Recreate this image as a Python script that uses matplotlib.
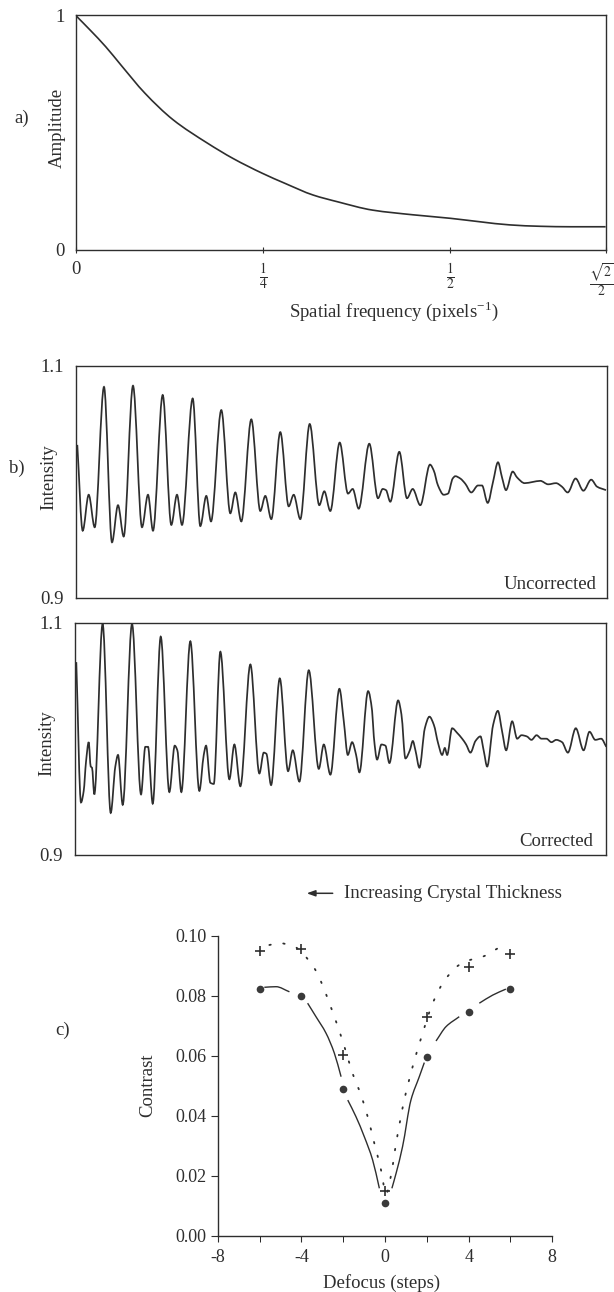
import matplotlib.pyplot as plt
import numpy as np
from matplotlib.path import Path
from matplotlib.patches import PathPatch
from matplotlib.transforms import ScaledTranslation

# a) amplitude fall-off with spatial frequency
freq = [0, 0.02, 0.0402, 0.06, 0.0925, 0.13, 0.176, 0.21, 0.249, 0.28, 0.317,
        0.35, 0.396, 0.45, 0.5, 0.54, 0.579, 0.62, 0.66, 0.707]
amp = [1.0, 0.935, 0.866, 0.79, 0.668, 0.555, 0.455, 0.39, 0.327, 0.283, 0.234,
       0.205, 0.170, 0.150, 0.135, 0.120, 0.107, 0.101, 0.099, 0.099]
freq_ticks = [0, 0.25, 0.5, np.sqrt(2) / 2]
freq_labels = ['0', r'$\frac{1}{4}$', r'$\frac{1}{2}$', r'$\frac{\sqrt{2}}{2}$']

# b) intensity profiles (position along the line, intensity)
unc = [(1.3, 1.032), (6.7, 0.958), (12.7, 0.989), (18.7, 0.961), (28, 1.082),
       (36, 0.948), (42, 0.980), (47.7, 0.953), (57, 1.083), (66, 0.961),
       (72, 0.989), (77, 0.958), (86.7, 1.075), (95.3, 0.963), (101, 0.989),
       (106, 0.963), (116.7, 1.072), (124.3, 0.962), (130.3, 0.988), (135, 0.966),
       (145.3, 1.062), (154.3, 0.973), (159.3, 0.991), (165.3, 0.966), (175.3, 1.054),
       (184.3, 0.975), (189.3, 0.988), (195.3, 0.968), (204.3, 1.043), (212.7, 0.979),
       (217.7, 0.989), (224.3, 0.968), (233.7, 1.050), (243.3, 0.980), (248.3, 0.992),
       (254.3, 0.975), (263.7, 1.034), (272, 0.990), (276.7, 0.994), (282.7, 0.977),
       (293.3, 1.033), (302, 0.986), (306.7, 0.994), (310, 0.993), (314.3, 0.983),
       (323.3, 1.026), (331, 0.986), (336.7, 0.994), (344.3, 0.980), (354, 1.015),
       (357.7, 1.010), (362, 0.997), (367.7, 0.989), (372, 0.990), (376.7, 1.003),
       (379.3, 1.005), (384.3, 1.003), (389.3, 0.9985), (395.3, 0.991), (402, 0.997),
       (406, 0.997), (411.7, 0.982), (417, 1.000), (422, 1.017), (426, 1.004),
       (430, 0.993), (436.7, 1.009), (441, 1.004), (448.7, 0.999), (456.5, 1.000),
       (464.3, 1.001), (472.2, 0.998), (480, 0.999), (485.9, 0.996), (491.7, 0.991),
       (499.6, 1.003), (507.4, 0.9925), (515.2, 1.002), (521, 0.996), (530, 0.993)]

cor = [(1, 1.066), (5.7, 0.945), (8.4, 0.955), (10.7, 0.980), (13.4, 0.997),
       (15.4, 0.976), (16.7, 0.975), (19, 0.952), (27.3, 1.099), (35.4, 0.936),
       (40, 0.976), (42.7, 0.986), (47.4, 0.943), (56.7, 1.099), (65.7, 0.952),
       (70, 0.993), (72.7, 0.993), (77.4, 0.944), (85.4, 1.088), (94, 0.954),
       (99.4, 0.994), (102, 0.990), (106, 0.954), (115, 1.084), (124, 0.955),
       (128.4, 0.986), (130.7, 0.994), (135, 0.962), (138.4, 0.961), (145, 1.075),
       (154, 0.965), (159, 0.995), (165, 0.959), (175, 1.064), (184, 0.970),
       (188.4, 0.988), (191, 0.987), (195.7, 0.960), (204.4, 1.052), (212.7, 0.972),
       (217.4, 0.990), (224, 0.963), (233.4, 1.059), (243.4, 0.974), (248.4, 0.995),
       (255, 0.969), (264, 1.043), (268.4, 1.015), (272.4, 0.986), (276.7, 0.997),
       (280.7, 0.986), (284, 0.971), (292.7, 1.041), (296.7, 1.024), (298.4, 1.002),
       (301.7, 0.982), (306, 0.995), (310, 0.994), (314, 0.979), (322.7, 1.033),
       (326, 1.021), (330, 0.983), (334.4, 0.990), (337.4, 0.998), (340, 0.990),
       (344, 0.975), (349.4, 1.009), (354, 1.019), (358.4, 1.012), (362.7, 0.996),
       (366.7, 0.986), (369.4, 0.992), (371.7, 0.986), (376.7, 1.009), (381.7, 1.005),
       (386.7, 1.000), (390.7, 0.995), (395, 0.988), (400, 0.998), (405, 1.002),
       (408.4, 0.989), (411.7, 0.976), (417.7, 1.012), (422.4, 1.024), (426.7, 1.006),
       (430.7, 0.990), (436.7, 1.015), (441.7, 1.000), (446, 1.003), (451.3, 1.002),
       (456, 0.999), (461.1, 1.003), (466, 1.000), (470.9, 1.000), (476, 0.997),
       (480.7, 0.999), (486.6, 0.997), (492.4, 0.988), (500.3, 1.009), (508.1, 0.990),
       (514, 1.006), (519.8, 0.999), (525.7, 1.000), (530.8, 0.993)]

# c) contrast against defocus
defocus = [-6, -4, -2, 0, 2, 4, 6]
contrast_plus = [0.0951, 0.0956, 0.0602, 0.0150, 0.0731, 0.0898, 0.0941]
contrast_dot = [0.0823, 0.0801, 0.0491, 0.0109, 0.0598, 0.0748, 0.0823]
fit_plus_x = [-5.53, -5.05, -4.41, -3.43, -3.06, -2.66, -2.42, -1.94, -1.55, -1.15,
              -0.83, -0.51, -0.19, 0.05, 0.29, 0.53, 0.92, 1.32, 1.80, 2.28, 2.92,
              3.79, 4.67, 5.47, 5.86]
fit_plus_y = [0.0970, 0.0976, 0.0967, 0.0898, 0.0848, 0.0776, 0.0731, 0.0631, 0.0542,
              0.0470, 0.0398, 0.0309, 0.0220, 0.0140, 0.0203, 0.0309, 0.0453, 0.0564,
              0.0676, 0.0776, 0.0859, 0.0914, 0.0931, 0.0962, 0.0976]
fit_dot_x = [-5.77, -5.21, -4.57, np.nan, -3.70, -3.30, -2.82, -2.42, -2.10, np.nan,
             -1.78, -1.39, -0.99, -0.59, -0.27, np.nan, 0.33, 0.53, 0.84, 1.24, 1.64,
             1.88, np.nan, 2.44, 2.92, 3.55, np.nan, 4.51, 5.15, 5.78]
fit_dot_y = [0.0829, 0.0831, 0.0814, np.nan, 0.0776, 0.0731, 0.0676, 0.0609, 0.0531,
             np.nan, 0.0453, 0.0398, 0.0331, 0.0253, 0.0159, np.nan, 0.0159, 0.0209,
             0.0298, 0.0453, 0.0531, 0.0578, np.nan, 0.0650, 0.0698, 0.0731, np.nan,
             0.0776, 0.0803, 0.0823]

plt.rcParams['font.family'] = 'Liberation Serif'
plt.rcParams['mathtext.fontset'] = 'stix'
plt.rcParams['axes.unicode_minus'] = False

W, H = 614, 1292
ink = '#2e2e2e'
fs = 13.5

fig = plt.figure(figsize=(W / 100, H / 100), dpi=100)


def box(l, t, r, b):
    return [l / W, 1 - b / H, (r - l) / W, (b - t) / H]


def ftext(x, y, s, **kw):
    kw.setdefault('fontsize', fs)
    kw.setdefault('color', ink)
    fig.text(x / W, 1 - y / H, s, ha=kw.pop('ha', 'center'), va=kw.pop('va', 'center'), **kw)


def frame(ax):
    for sp in ax.spines.values():
        sp.set_color(ink)
        sp.set_linewidth(1.0)
    ax.tick_params(colors=ink, labelsize=fs)


def smooth_line(ax, xs, ys, **kw):
    """Draw a line through the points as monotone cubic Bezier pieces (no overshoot)."""
    x = np.asarray(xs, float)
    y = np.asarray(ys, float)
    breaks = np.where(np.isnan(x))[0]
    for seg in np.split(np.arange(len(x)), breaks):
        seg = seg[~np.isnan(x[seg])]
        if len(seg) < 2:
            continue
        px, py = x[seg], y[seg]
        h = np.diff(px)
        d = np.diff(py) / h
        m = np.zeros_like(py)
        m[0], m[-1] = d[0], d[-1]
        for i in range(1, len(px) - 1):
            if d[i - 1] * d[i] > 0:
                w1 = 2 * h[i] + h[i - 1]
                w2 = h[i] + 2 * h[i - 1]
                m[i] = (w1 + w2) / (w1 / d[i - 1] + w2 / d[i])
        verts = [(px[0], py[0])]
        codes = [Path.MOVETO]
        for i in range(len(px) - 1):
            verts += [(px[i] + h[i] / 3, py[i] + m[i] * h[i] / 3),
                      (px[i + 1] - h[i] / 3, py[i + 1] - m[i + 1] * h[i] / 3),
                      (px[i + 1], py[i + 1])]
            codes += [Path.CURVE4] * 3
        ax.add_patch(PathPatch(Path(verts, codes), fill=False, **kw))


# ---- a) ----
ax = fig.add_axes(box(75.6, 15.3, 605.7, 250))
frame(ax)
smooth_line(ax, freq, amp, edgecolor=ink, lw=1.2)
ax.set_xlim(0, np.sqrt(2) / 2)
ax.set_ylim(0, 1)
ax.set_xticks(freq_ticks)
ax.set_xticklabels(freq_labels)
ax.set_yticks([0, 1])
ax.set_yticklabels(['0', '1'])
ax.tick_params(axis='y', length=0, pad=8)
ax.tick_params(axis='x', length=4, direction='inout', pad=6, labelsize=14)
xl = ax.get_xticklabels()
xl[0].set_fontsize(fs)
# keep the last fraction inside the figure edge
xl[-1].set_transform(xl[-1].get_transform() + ScaledTranslation(-4 / 100, 0, fig.dpi_scale_trans))
ftext(21.5, 118, 'a)')
ftext(57, 128, 'Amplitude', rotation=90)
ftext(393.5, 311.7, r'Spatial frequency (pixels$^{\mathregular{-1}}$)')

# ---- b) ----
panels = [(box(76, 366, 606.5, 598), unc, 'Uncorrected', 0.982),
          (box(75.3, 622.7, 606, 854.7), cor, 'Corrected', 0.9755)]
for pos, trace, name, tx in panels:
    ax = fig.add_axes(pos)
    frame(ax)
    xs, ys = zip(*trace)
    smooth_line(ax, xs, ys, edgecolor=ink, lw=1.25)
    ax.set_xlim(0, 530.5)
    ax.set_ylim(0.9, 1.1)
    ax.set_xticks([])
    ax.set_yticks([0.9, 1.1])
    ax.set_yticklabels(['0.9', '1.1'])
    ax.tick_params(axis='y', length=0, pad=9)
    ax.text(tx, 0.057, name, transform=ax.transAxes, ha='right', va='center',
            fontsize=fs, color=ink)
ftext(16.4, 468, 'b)')
ftext(49, 477, 'Intensity', rotation=90)
ftext(47, 743, 'Intensity', rotation=90)

# ---- c) ----
ax = fig.add_axes(box(217.7, 936, 552.3, 1236))
frame(ax)
for s in ['top', 'right']:
    ax.spines[s].set_visible(False)
smooth_line(ax, fit_plus_x, fit_plus_y, edgecolor=ink, lw=1.3, ls=(0, (0.8, 7)),
            capstyle='round')
smooth_line(ax, fit_dot_x, fit_dot_y, edgecolor=ink, lw=1.0)
ax.plot(defocus, contrast_plus, '+', color=ink, ms=6.5, mew=1.2)
ax.plot(defocus, contrast_dot, 'o', color='#3a3a3a', ms=5.5, mew=0)
ax.set_xlim(-8, 8)
ax.set_ylim(0, 0.1)
ax.set_xticks([-8, -4, 0, 4, 8])
ax.set_xticks([-6, -2, 2, 6], minor=True)
ax.set_yticks([0, 0.02, 0.04, 0.06, 0.08, 0.10])
ax.set_yticklabels(['0.00', '0.02', '0.04', '0.06', '0.08', '0.10'])
ax.tick_params(axis='y', length=5, direction='out', pad=3, labelsize=13)
ax.tick_params(axis='x', which='both', length=4, direction='out', pad=5, labelsize=13)
ftext(63, 1030, 'c)')
ftext(148, 1085, 'Contrast', rotation=90)
ftext(381.7, 1282.7, 'Defocus (steps)')
ftext(344.3, 893.3, 'Increasing Crystal Thickness', ha='left')
fig.add_artist(plt.Annotation('', xy=(306.7 / W, 1 - 893.3 / H), xytext=(332.7 / W, 1 - 893.3 / H),
                              xycoords='figure fraction', textcoords='figure fraction',
                              arrowprops=dict(arrowstyle='-|>,head_length=0.5,head_width=0.18',
                                              color=ink, lw=1.1, shrinkA=0, shrinkB=0)))

fig.savefig('out.png', dpi=100)
